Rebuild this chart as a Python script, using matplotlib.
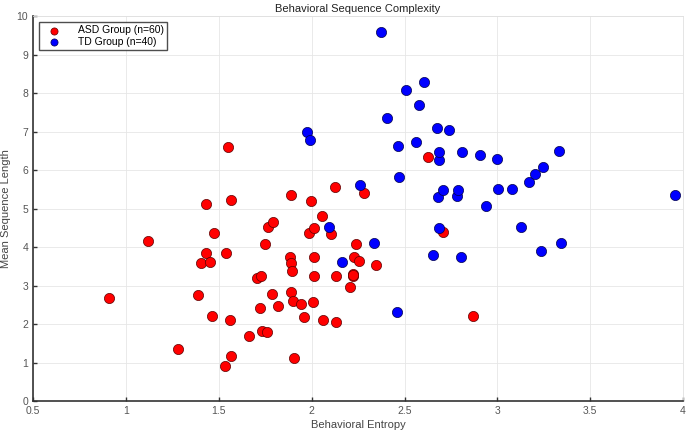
# scatter: behavioral sequence complexity, ASD vs TD

import matplotlib
matplotlib.use("Agg")
import matplotlib.pyplot as plt

plt.rcParams["font.family"] = ["Liberation Sans", "DejaVu Sans"]

asd_entropy = [0.911, 1.117, 1.279, 1.389, 1.403, 1.432, 1.430, 1.453, 1.462, 1.475,
               1.534, 1.536, 1.552, 1.559, 1.565, 1.568, 1.665, 1.705, 1.724, 1.728,
               1.733, 1.746, 1.758, 1.767, 1.794, 1.787, 1.821, 1.884, 1.889, 1.893,
               1.889, 1.889, 1.898, 1.907, 1.943, 1.956, 1.983, 1.995, 2.013, 2.013,
               2.013, 2.009, 2.055, 2.063, 2.105, 2.125, 2.132, 2.130, 2.207, 2.229,
               2.220, 2.223, 2.241, 2.254, 2.282, 2.345, 2.625, 2.706, 2.868, 2.222]
asd_length = [2.68, 4.16, 1.34, 2.75, 3.59, 3.84, 5.12, 3.61, 2.21, 4.36,
              0.92, 3.85, 6.61, 2.10, 5.22, 1.17, 1.69, 3.19, 2.42, 3.25,
              1.81, 4.08, 1.78, 4.52, 4.66, 2.77, 2.48, 3.75, 3.59, 3.39,
              2.83, 5.35, 2.60, 1.13, 2.52, 2.18, 4.37, 5.20, 4.50, 3.73,
              3.25, 2.57, 4.81, 2.10, 4.33, 5.55, 2.04, 3.25, 2.95, 3.73,
              3.29, 3.25, 4.08, 3.64, 5.40, 3.53, 6.33, 4.39, 2.22, 3.27]

td_entropy = [1.974, 1.992, 2.092, 2.164, 2.261, 2.333, 2.372, 2.403, 2.458, 2.464,
              2.470, 2.510, 2.561, 2.580, 2.607, 2.652, 2.676, 2.679, 2.683, 2.686,
              2.688, 2.706, 2.740, 2.781, 2.787, 2.803, 2.808, 2.907, 2.936, 2.997,
              3.002, 3.076, 3.126, 3.170, 3.203, 3.234, 3.245, 3.334, 3.345, 3.957]
td_length = [7.00, 6.78, 4.51, 3.61, 5.61, 4.11, 9.58, 7.36, 2.30, 6.62,
             5.83, 8.09, 6.73, 7.68, 8.29, 3.79, 7.10, 5.29, 4.50, 6.25,
             6.48, 5.48, 7.04, 5.32, 5.48, 3.75, 6.47, 6.38, 5.07, 6.29,
             5.50, 5.52, 4.52, 5.68, 5.89, 3.90, 6.07, 6.49, 4.11, 5.35]

fig = plt.figure(figsize=(6.9, 4.34), dpi=100)
ax = fig.add_axes([0.048, 0.076, 0.942, 0.887])

ax.scatter(asd_entropy, asd_length, s=54, c="#ff0000", edgecolors="#5a0000",
           linewidths=0.5, label="ASD Group (n=60)", zorder=3)
ax.scatter(td_entropy, td_length, s=54, c="#0000ff", edgecolors="#00004a",
           linewidths=0.5, label="TD Group (n=40)", zorder=3)

ax.set_xlim(0.5, 4)
ax.set_ylim(0, 10)
ax.set_xticks([0.5, 1, 1.5, 2, 2.5, 3, 3.5, 4])
ax.set_xticklabels(["0.5", "1", "1.5", "2", "2.5", "3", "3.5", "4"])
ax.set_yticks(range(0, 11))

ax.set_title("Behavioral Sequence Complexity", fontsize=8, color="#222222", pad=3)
ax.set_xlabel("Behavioral Entropy", fontsize=8, color="#444444", labelpad=3)
ax.set_ylabel("Mean Sequence Length", fontsize=8, color="#444444", labelpad=4)

ax.tick_params(direction="in", labelsize=7.5, colors="#333333", labelcolor="#555555",
               length=3, width=1)
ax.tick_params(top=False, right=False)
ax.grid(True, color="#e6e6e6", linewidth=0.6)
ax.set_axisbelow(True)

for side in ["left", "bottom"]:
    ax.spines[side].set_color("#333333")
    ax.spines[side].set_linewidth(1.2)
for side in ["top", "right"]:
    ax.spines[side].set_color("#e0e0e0")
    ax.spines[side].set_linewidth(0.6)

leg = ax.legend(loc="upper left", fontsize=7.5, frameon=True, fancybox=False,
                edgecolor="#222222", borderpad=0.3, handletextpad=1.2,
                handlelength=2.2, labelspacing=0.15, borderaxespad=0.6,
                markerscale=0.7)
leg.get_frame().set_linewidth(1.0)

plt.savefig("out.png", dpi=100)
